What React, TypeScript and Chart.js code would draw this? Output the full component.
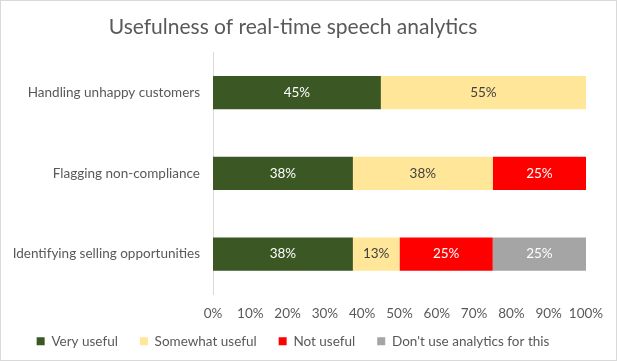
import React, { useEffect, useRef } from "react";
import { Chart, registerables } from "chart.js";

Chart.register(...registerables);

const categories = [
  "Handling unhappy customers",
  "Flagging non-compliance",
  "Identifying selling opportunities",
];
const veryUseful = [45, 37.5, 37.5];
const somewhatUseful = [55, 37.5, 12.5];
const notUseful = [0, 25, 25];
const dontUse = [0, 0, 25];
const xTicks = [0, 10, 20, 30, 40, 50, 60, 70, 80, 90, 100];

const FONT = "Lato, 'Open Sans', sans-serif";
const TEXT = "#595959";

const labelPlugin = {
  id: "barLabels",
  afterDatasetsDraw(chart: any) {
    const ctx = chart.ctx;
    ctx.save();
    ctx.font = `13.5px ${FONT}`;
    ctx.textAlign = "center";
    ctx.textBaseline = "middle";
    chart.data.datasets.forEach((ds: any, i: number) => {
      const meta = chart.getDatasetMeta(i);
      meta.data.forEach((el: any, j: number) => {
        const v = ds.data[j];
        if (!v) return;
        const cx = (el.x + el.base) / 2;
        ctx.fillStyle = ds.labelColor;
        ctx.fillText(Math.round(v) + "%", cx, el.y);
      });
    });
    ctx.restore();
  },
};

const borderPlugin = {
  id: "outerBorder",
  afterDraw(chart: any) {
    const ctx = chart.ctx;
    ctx.save();
    ctx.strokeStyle = "#d9d9d9";
    ctx.lineWidth = 1;
    ctx.strokeRect(0.5, 0.5, chart.width - 1, chart.height - 1);
    ctx.restore();
  },
};

export default function App() {
  const ref = useRef<HTMLCanvasElement>(null);
  useEffect(() => {
    document.body.style.margin = "0";
    const chart = new Chart(ref.current!, {
      type: "bar",
      data: {
        labels: categories,
        datasets: [
          { label: "Very useful", data: veryUseful, backgroundColor: "#3a5724", labelColor: "#ffffff" } as any,
          { label: "Somewhat useful", data: somewhatUseful, backgroundColor: "#ffe699", labelColor: "#404040" } as any,
          { label: "Not useful", data: notUseful, backgroundColor: "#ff0000", labelColor: "#ffffff" } as any,
          { label: "Don't use analytics for this", data: dontUse, backgroundColor: "#a5a5a5", labelColor: "#ffffff" } as any,
        ],
      },
      options: {
        indexAxis: "y",
        responsive: false,
        animation: false,
        datasets: { bar: { barPercentage: 0.41, categoryPercentage: 1 } },
        layout: { padding: { left: 0, right: 31, top: 0, bottom: 3 } },
        scales: {
          x: {
            stacked: true,
            min: 0,
            max: 100,
            afterBuildTicks: (s: any) => {
              s.ticks = xTicks.map((v) => ({ value: v }));
            },
            afterFit: (s: any) => {
              s.height = 18;
              s._computeLabelArea = () => undefined;
            },
            ticks: {
              callback: (v: any) => v + "%",
              color: TEXT,
              font: { family: FONT, size: 13.5 },
              padding: 11,
              maxRotation: 0,
              autoSkip: false,
            },
            grid: { display: false, drawTicks: false },
            border: { display: false },
          },
          y: {
            stacked: true,
            afterFit: (s: any) => {
              s.width = 213;
            },
            ticks: {
              color: TEXT,
              font: { family: FONT, size: 13.5 },
              padding: 13,
            },
            grid: { display: false, drawTicks: false },
            border: { display: true, color: "#d9d9d9" },
          },
        },
        plugins: {
          title: {
            display: true,
            text: "Usefulness of real-time speech analytics",
            color: TEXT,
            font: { family: FONT, size: 21, weight: "normal" },
            padding: { top: 15, bottom: 12 },
          },
          legend: {
            position: "bottom",
            labels: {
              boxWidth: 8,
              boxHeight: 8,
              color: TEXT,
              font: { family: FONT, size: 13.5 },
              padding: 22,
            },
          },
          tooltip: { enabled: false },
        },
      },
      plugins: [labelPlugin, borderPlugin],
    });
    return () => chart.destroy();
  }, []);
  return <canvas ref={ref} width={617} height={361} style={{ display: "block" }} />;
}
